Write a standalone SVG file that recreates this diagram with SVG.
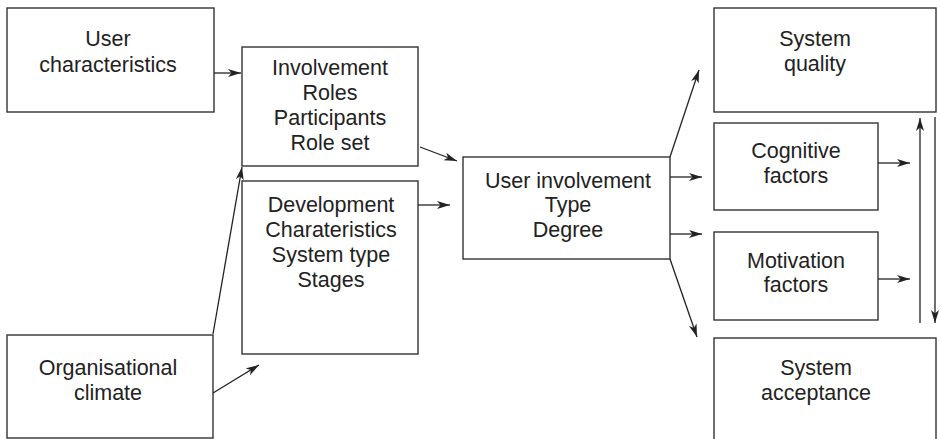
<svg xmlns="http://www.w3.org/2000/svg" width="940" height="439" viewBox="0 0 940 439">
<style>
.box{fill:#fff;stroke:#333;stroke-width:1.4}
.t{font-family:"Liberation Sans",Arial,sans-serif;font-size:21.5px;fill:#222;text-anchor:middle}
.c{stroke:#222;stroke-width:1.3;fill:none}
</style>
<defs>
<marker id="ah" markerWidth="14" markerHeight="10" refX="13" refY="4.5" orient="auto" markerUnits="userSpaceOnUse">
<path d="M0,0.5 L13,4.5 L0,8.5 L3.5,4.5 z" fill="#222"/>
</marker>
</defs>
<rect width="940" height="439" fill="#fff"/>
<g id="user-characteristics">
<rect class="box" x="7" y="8" width="207" height="104"/>
<text class="t" x="108" y="46">User</text>
<text class="t" x="108" y="72">characteristics</text>
</g>
<g id="involvement">
<rect class="box" x="242" y="47" width="176" height="119"/>
<text class="t" x="330" y="75">Involvement</text>
<text class="t" x="330" y="100">Roles</text>
<text class="t" x="330" y="125">Participants</text>
<text class="t" x="330" y="150">Role set</text>
</g>
<g id="development">
<rect class="box" x="242" y="181" width="176" height="173"/>
<text class="t" x="331" y="212">Development</text>
<text class="t" x="331" y="237">Charateristics</text>
<text class="t" x="331" y="262">System type</text>
<text class="t" x="331" y="287">Stages</text>
</g>
<g id="organisational-climate">
<rect class="box" x="7" y="335" width="206" height="103"/>
<text class="t" x="108" y="375">Organisational</text>
<text class="t" x="108" y="400">climate</text>
</g>
<g id="user-involvement">
<rect class="box" x="463" y="157" width="207" height="102"/>
<text class="t" x="568" y="188">User involvement</text>
<text class="t" x="568" y="212">Type</text>
<text class="t" x="568" y="237">Degree</text>
</g>
<g id="system-quality">
<rect class="box" x="714" y="8" width="222" height="104"/>
<text class="t" x="815" y="46">System</text>
<text class="t" x="815" y="71">quality</text>
</g>
<g id="cognitive-factors">
<rect class="box" x="714" y="123" width="164" height="87"/>
<text class="t" x="796" y="158">Cognitive</text>
<text class="t" x="796" y="183">factors</text>
</g>
<g id="motivation-factors">
<rect class="box" x="714" y="232" width="164" height="88"/>
<text class="t" x="796" y="268">Motivation</text>
<text class="t" x="796" y="292">factors</text>
</g>
<g id="system-acceptance">
<rect class="box" x="714" y="338" width="222" height="110"/>
<text class="t" x="816" y="375">System</text>
<text class="t" x="816" y="400">acceptance</text>
</g>
<g id="connectors">
<line class="c" x1="214" y1="73" x2="241" y2="73" marker-end="url(#ah)"/>
<line class="c" x1="213" y1="334" x2="242" y2="167" marker-end="url(#ah)"/>
<line class="c" x1="213" y1="393" x2="259" y2="365" marker-end="url(#ah)"/>
<line class="c" x1="420" y1="147" x2="457" y2="161" marker-end="url(#ah)"/>
<line class="c" x1="418" y1="205" x2="450" y2="205" marker-end="url(#ah)"/>
<line class="c" x1="670" y1="157" x2="699" y2="70" marker-end="url(#ah)"/>
<line class="c" x1="670" y1="177" x2="702" y2="177" marker-end="url(#ah)"/>
<line class="c" x1="670" y1="234" x2="702" y2="234" marker-end="url(#ah)"/>
<line class="c" x1="670" y1="259" x2="697" y2="337" marker-end="url(#ah)"/>
<line class="c" x1="878" y1="163" x2="910" y2="163" marker-end="url(#ah)"/>
<line class="c" x1="878" y1="279" x2="910" y2="279" marker-end="url(#ah)"/>
<line class="c" x1="920" y1="323" x2="920" y2="118" marker-end="url(#ah)"/>
<line class="c" x1="935" y1="117" x2="935" y2="323" marker-end="url(#ah)"/>
</g>
</svg>
